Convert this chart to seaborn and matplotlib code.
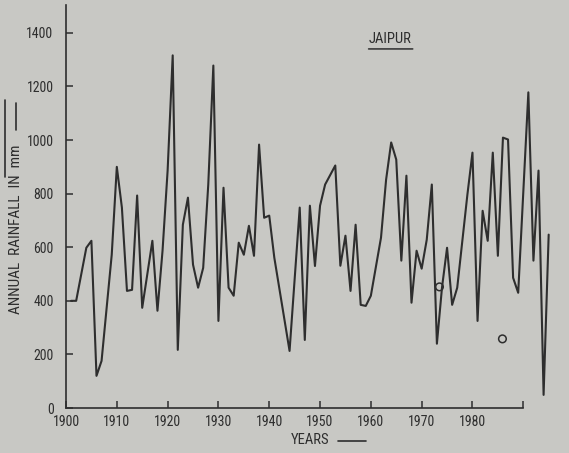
import matplotlib
matplotlib.use("Agg")
import matplotlib.pyplot as plt
import seaborn as sns
import pandas as pd

# Annual rainfall at Jaipur (mm)
years = [1901, 1902, 1904, 1905, 1906, 1907, 1909, 1910, 1911, 1912, 1913, 1914,
         1915, 1917, 1918, 1919, 1920, 1921, 1922, 1923, 1924, 1925, 1926, 1927,
         1928, 1929, 1930, 1931, 1932, 1933, 1934, 1935, 1936, 1937, 1938, 1939,
         1940, 1941, 1944, 1946, 1947, 1948, 1949, 1950, 1951, 1953, 1954, 1955,
         1956, 1957, 1958, 1959, 1960, 1962, 1963, 1964, 1965, 1966, 1967, 1968,
         1969, 1970, 1971, 1972, 1973, 1974, 1975, 1976, 1977, 1979, 1980, 1981,
         1982, 1983, 1984, 1985, 1986, 1987, 1988, 1989, 1991, 1992, 1993, 1994,
         1995]
rainfall = [400, 400, 598, 624, 120, 176, 572, 900, 748, 437, 441, 793,
            374, 624, 363, 587, 886, 1316, 217, 684, 785, 535, 449, 523,
            834, 1278, 325, 822, 449, 419, 617, 572, 680, 568, 983, 710,
            718, 561, 213, 748, 254, 755, 530, 755, 834, 905, 531, 643,
            437, 684, 385, 381, 419, 636, 852, 991, 927, 550, 867, 393,
            587, 520, 628, 834, 240, 449, 598, 385, 449, 796, 953, 325,
            736, 624, 953, 568, 1009, 1002, 486, 430, 1178, 550, 886, 49,
            647]

# Two ringed points marked on the chart
ring_years = [1973.5, 1985.9]
ring_values = [452, 258]

y_ticks = [0, 200, 400, 600, 800, 1000, 1200, 1400]
x_ticks = [1900, 1910, 1920, 1930, 1940, 1950, 1960, 1970, 1980, 1990]
x_tick_labels = ["1900", "1910", "1920", "1930", "1940", "1950", "1960", "1970", "1980", ""]

paper = "#c8c8c4"
ink = "#2e2e2e"

sns.set_style("ticks")
plt.rcParams["font.family"] = ["Liberation Sans Narrow", "DejaVu Sans Condensed",
                               "Roboto Condensed", "DejaVu Sans"]
plt.rcParams["font.stretch"] = "condensed"

df = pd.DataFrame({"year": years, "rain": rainfall})

W, H = 569, 453
fig = plt.figure(figsize=(W / 100, H / 100), dpi=100, facecolor=paper)
ax = fig.add_axes([0.116, 0.0993, 0.884, 0.8897])
ax.set_facecolor(paper)

sns.lineplot(data=df, x="year", y="rain", ax=ax, color=ink, linewidth=1.5,
             estimator=None, sort=False)
ax.scatter(ring_years, ring_values, s=30, facecolors="none", edgecolors=ink,
           linewidths=1.1, zorder=3)

ax.set_xlim(1900, 1999)
ax.set_ylim(0, 1504)

for side in ("top", "right"):
    ax.spines[side].set_visible(False)
for side in ("left", "bottom"):
    ax.spines[side].set_color(ink)
    ax.spines[side].set_linewidth(1.2)
ax.spines["bottom"].set_bounds(1900, 1990)

ax.set_yticks(y_ticks)
ax.set_yticklabels([str(v) for v in y_ticks])
ax.set_xticks(x_ticks)
ax.set_xticklabels(x_tick_labels)
ax.tick_params(axis="both", direction="in", length=5, width=1.1, color=ink,
               labelcolor=ink, labelsize=10)
ax.tick_params(axis="y", pad=9)
ax.tick_params(axis="x", pad=5)
ax.set_xlabel("")
ax.set_ylabel("")


def rule(x0, y0, x1, y1, lw=1.2):
    """Hand-ruled stroke in figure pixels (measured from the top-left)."""
    ax.annotate("", xy=(x0, H - y0), xytext=(x1, H - y1), xycoords="figure pixels",
                textcoords="figure pixels",
                arrowprops=dict(arrowstyle="-", color=ink, lw=lw, shrinkA=0, shrinkB=0))


# axis titles with their arrow strokes
fig.text(16 / W, 1 - 229 / H, "ANNUAL  RAINFALL  IN  mm", rotation=90, fontsize=11,
         color=ink, ha="center", va="center")
rule(16, 103, 16, 130)
rule(5, 100, 5, 177)

fig.text(310 / W, 1 - 440 / H, "YEARS", fontsize=10.5, color=ink, ha="center", va="center")
rule(338, 441, 366, 441)

ax.text(1963.7, 1352, "JAIPUR", fontsize=10.5, color=ink, ha="center", va="bottom")
ax.annotate("", xy=(1959.0, 1340), xytext=(1968.8, 1340), xycoords="data",
            arrowprops=dict(arrowstyle="-", color=ink, lw=1.1))

fig.savefig("out.png", dpi=100, facecolor=paper)
